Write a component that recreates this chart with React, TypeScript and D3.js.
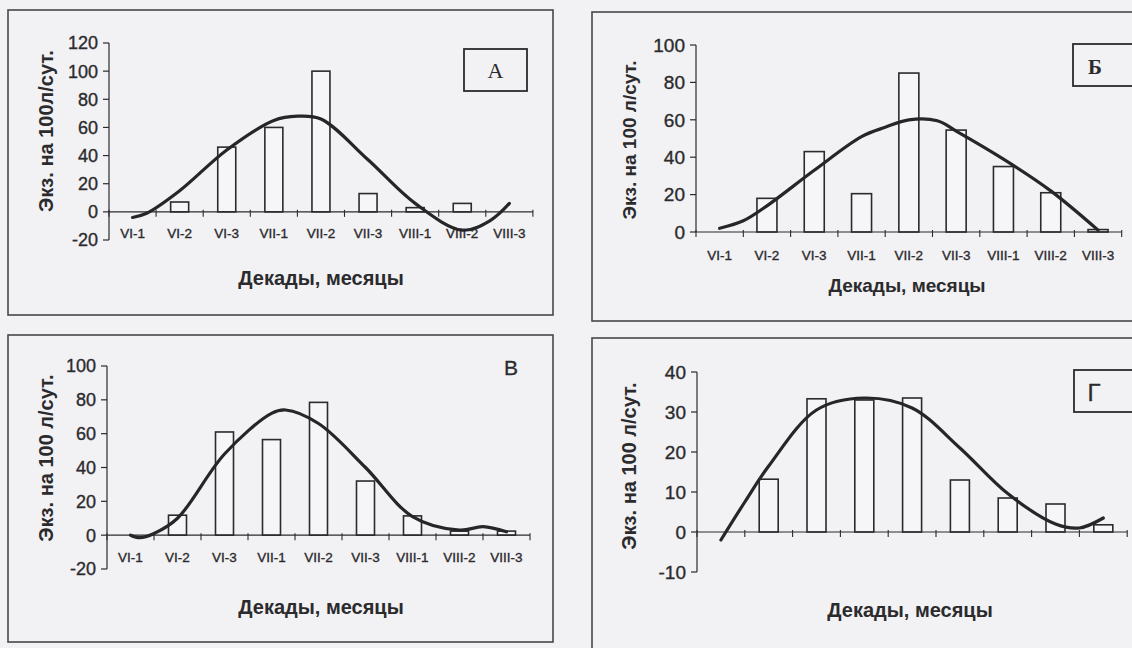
import React from "react";
import * as d3 from "d3";

const categories = ["VI-1", "VI-2", "VI-3", "VII-1", "VII-2", "VII-3", "VIII-1", "VIII-2", "VIII-3"];

const barsA = [0, 7, 46, 60, 100, 13, 3, 6, 0];
const curveA: [number, number][] = [[0, -4], [0.3, -1], [1, 15], [2, 44], [3, 65], [3.5, 68], [4, 66], [5, 37], [6, 6], [7, -13], [7.6, -6], [8, 6]];
const ticksA = [-20, 0, 20, 40, 60, 80, 100, 120];

const barsB = [0, 18, 43, 20.5, 85, 54.5, 35, 21, 1.3];
const curveB: [number, number][] = [[0, 2], [0.5, 6], [1, 14], [2, 33], [3, 51], [3.5, 56], [4, 60], [4.6, 59.5], [5, 54], [6, 39], [7, 22], [8, 1]];
const ticksB = [0, 20, 40, 60, 80, 100];

const barsV = [0, 11.8, 61, 56.5, 78.5, 32, 11.4, 2.4, 2.4];
const curveV: [number, number][] = [[0, 0], [0.2, -1.5], [0.5, 1], [1, 10], [2, 48], [3, 72], [3.3, 74], [4, 66], [5, 40], [6, 11], [7, 3], [7.5, 5], [8, 2]];
const ticksV = [-20, 0, 20, 40, 60, 80, 100];

const barsG = [0, 13.2, 33.3, 33, 33.5, 13, 8.5, 7, 1.8];
const curveG: [number, number][] = [[0, -2], [0.5, 7.5], [1, 16.5], [2, 30.5], [3, 33.5], [4, 31], [5, 21], [6, 9.6], [7, 2], [7.5, 1], [8, 3.5]];
const ticksG = [-10, 0, 10, 20, 30, 40];

const SANS = "'Liberation Sans', Arial, sans-serif";
const SERIF = "'Liberation Serif', 'Times New Roman', serif";
const INK = "#2b2b2d";

type PanelProps = {
  frame: { x: number; y: number; w: number; h: number };
  axisX: number;
  band: number;
  yDomain: [number, number];
  yRange: [number, number];
  ticks: number[];
  bars: number[];
  curve: [number, number][];
  tickFont: number;
  titleFont: number;
  catLabelY: number | null;
  yLabel: string;
  yLabelPos: [number, number];
  xTitlePos: [number, number];
  barW: number;
};

function Panel(p: PanelProps) {
  const xi = d3.scaleLinear().domain([-0.5, categories.length - 0.5]).range([p.axisX, p.axisX + categories.length * p.band]);
  const y = d3.scaleLinear().domain(p.yDomain).range(p.yRange);
  const y0 = y(0);
  const line = d3
    .line<[number, number]>()
    .x((d) => xi(d[0]))
    .y((d) => y(d[1]))
    .curve(d3.curveCatmullRom.alpha(0.5));
  const xEnd = p.axisX + categories.length * p.band;
  return (
    <g>
      <rect x={p.frame.x} y={p.frame.y} width={p.frame.w} height={p.frame.h} fill="none" stroke="#47474a" strokeWidth={1.6} />
      <line x1={p.axisX} x2={p.axisX} y1={y(p.yDomain[1])} y2={y(p.yDomain[0])} stroke={INK} strokeWidth={1.2} />
      {p.ticks.map((t) => (
        <g key={t}>
          <line x1={p.axisX - 6} x2={p.axisX} y1={y(t)} y2={y(t)} stroke={INK} strokeWidth={1.2} />
          <text x={p.axisX - 11} y={y(t)} dy="0.36em" textAnchor="end" fontFamily={SANS} fontSize={p.tickFont} fill={INK} stroke={INK} strokeWidth={0.35}>
            {t}
          </text>
        </g>
      ))}
      {p.bars.map((v, i) =>
        v > 0 ? (
          <rect
            key={i}
            x={xi(i) - p.barW / 2}
            y={y(v)}
            width={p.barW}
            height={y0 - y(v)}
            fill="#f6f5f7"
            stroke={INK}
            strokeWidth={1.6}
          />
        ) : null
      )}
      <line x1={p.axisX} x2={xEnd} y1={y0} y2={y0} stroke={INK} strokeWidth={1.2} />
      {d3.range(categories.length + 1).map((k) => (
        <line key={k} x1={xi(k - 0.5)} x2={xi(k - 0.5)} y1={y0 - 2} y2={y0 + 5} stroke={INK} strokeWidth={1.1} />
      ))}
      {p.catLabelY !== null &&
        categories.map((c, i) => (
          <text key={c} x={xi(i)} y={p.catLabelY as number} textAnchor="middle" fontFamily={SANS} fontSize={13.5} fill={INK} stroke={INK} strokeWidth={0.35}>
            {c}
          </text>
        ))}
      <path d={line(p.curve) || ""} fill="none" stroke="#262628" strokeWidth={3.2} strokeLinejoin="round" strokeLinecap="round" />
      <text
        transform={`translate(${p.yLabelPos[0]},${p.yLabelPos[1]}) rotate(-90)`}
        textAnchor="middle"
        dy="0.36em"
        fontFamily={SANS}
        fontWeight="bold"
        fontSize={p.titleFont}
        fill={INK}
      >
        {p.yLabel}
      </text>
      <text x={p.xTitlePos[0]} y={p.xTitlePos[1]} dy="0.36em" textAnchor="middle" fontFamily={SANS} fontWeight="bold" fontSize={p.titleFont} fill={INK}>
        Декады, месяцы
      </text>
    </g>
  );
}

export default function App() {
  return (
    <svg width={1132} height={648} style={{ position: "absolute", left: 0, top: 0 }}>
      <rect x={0} y={0} width={1132} height={648} fill="#f2f1f4" />
      <Panel
        frame={{ x: 8, y: 10, w: 545, h: 305 }}
        axisX={109}
        band={47.1}
        yDomain={[-20, 120]}
        yRange={[240, 43]}
        ticks={ticksA}
        bars={barsA}
        curve={curveA}
        tickFont={18}
        titleFont={20}
        catLabelY={238}
        yLabel="Экз. на 100л/сут."
        yLabelPos={[46, 131]}
        xTitlePos={[321, 278]}
        barW={18}
      />
      <rect x={464} y={49} width={63} height={42} fill="none" stroke={INK} strokeWidth={1.8} />
      <text x={495.5} y={70} dy="0.36em" textAnchor="middle" fontFamily={SERIF} fontSize={22} fill={INK}>
        А
      </text>

      <Panel
        frame={{ x: 592, y: 12, w: 560, h: 309 }}
        axisX={696}
        band={47.3}
        yDomain={[0, 100]}
        yRange={[232, 45]}
        ticks={ticksB}
        bars={barsB}
        curve={curveB}
        tickFont={19}
        titleFont={19}
        catLabelY={260}
        yLabel="Экз. на 100 л/сут."
        yLabelPos={[629, 140]}
        xTitlePos={[907, 285]}
        barW={20}
      />
      <rect x={1073} y={44} width={70} height={42} fill="none" stroke={INK} strokeWidth={1.8} />
      <text x={1095} y={66} dy="0.36em" textAnchor="middle" fontFamily={SERIF} fontWeight="bold" fontSize={21} fill={INK}>
        Б
      </text>

      <Panel
        frame={{ x: 8, y: 335, w: 545, h: 307 }}
        axisX={107}
        band={47}
        yDomain={[-20, 100]}
        yRange={[569, 366]}
        ticks={ticksV}
        bars={barsV}
        curve={curveV}
        tickFont={18}
        titleFont={20}
        catLabelY={562}
        yLabel="Экз. на 100 л/сут."
        yLabelPos={[46, 458]}
        xTitlePos={[321, 607]}
        barW={18}
      />
      <text x={511} y={367} dy="0.36em" textAnchor="middle" fontFamily={SANS} fontSize={21} fill={INK} stroke={INK} strokeWidth={0.3}>
        В
      </text>

      <Panel
        frame={{ x: 592, y: 338, w: 560, h: 320 }}
        axisX={697}
        band={47.8}
        yDomain={[-10, 40]}
        yRange={[572, 372]}
        ticks={ticksG}
        bars={barsG}
        curve={curveG}
        tickFont={19}
        titleFont={20}
        catLabelY={null}
        yLabel="Экз. на 100 л/сут."
        yLabelPos={[629, 466]}
        xTitlePos={[910, 610]}
        barW={19}
      />
      <rect x={1074} y={370} width={70} height={42} fill="none" stroke={INK} strokeWidth={1.8} />
      <text x={1094} y={392} dy="0.36em" textAnchor="middle" fontFamily={SANS} fontSize={24} fill={INK} stroke={INK} strokeWidth={0.3}>
        Г
      </text>
    </svg>
  );
}
